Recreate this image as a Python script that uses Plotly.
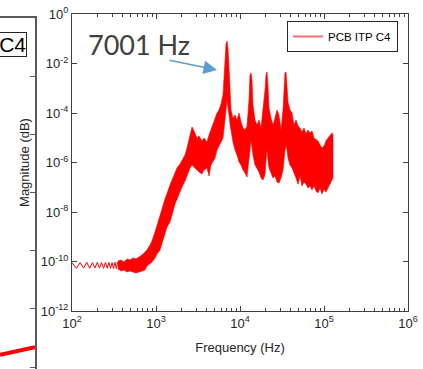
import plotly.graph_objects as go

# ---------------- data ----------------
# low-frequency ripple of the PCB ITP C4 spectrum (Hz, magnitude)
ripple_freq = [100, 112.5, 125, 137.5, 150, 162.5, 175, 187.5, 200, 212.5, 225, 237.5,
               250, 262.5, 275, 287.5, 300, 312.5, 325, 337.5, 350, 362.5, 375, 387.5, 400]
ripple_mag = [9.1e-11, 5.3e-11, 9.0e-11, 5.4e-11, 9.2e-11, 5.3e-11, 9.0e-11, 5.5e-11,
              9.1e-11, 5.4e-11, 9.0e-11, 5.3e-11, 9.1e-11, 5.4e-11, 9.2e-11, 5.3e-11,
              9.0e-11, 5.2e-11, 9.3e-11, 5.1e-11, 9.6e-11, 5.0e-11, 1.0e-10, 4.8e-11, 1.0e-10]

# dense noisy part of the spectrum: frequency, upper and lower envelope
band_freq = [353, 383, 416, 452, 490, 532, 578, 628, 681, 740, 781, 848, 896, 973, 1028,
             1116, 1179, 1280, 1352, 1468, 1551, 1684, 1778, 1931, 2039, 2214, 2339, 2540,
             2683, 2835, 3078, 3251, 3529, 3728, 4047, 4276, 4517, 4771, 5040, 5324, 5623,
             5940, 6275, 6449, 6629, 6813, 7001, 7197, 7396, 7603, 7814, 8254, 8722, 9211,
             9730, 10280, 10860, 11470, 12120, 12800, 13150, 13520, 13900, 14280, 15090,
             15940, 16840, 17780, 18780, 19850, 20400, 20960, 21540, 22140, 23390, 24710,
             26100, 27570, 29130, 30770, 32510, 33410, 34340, 35290, 36270, 37280, 39380,
             41600, 43950, 46420, 49040, 51810, 54720, 57810, 61070, 64490, 68130, 71970,
             76030, 80320, 84830, 89620, 94670, 100000, 105600, 111600, 117900, 124500, 128000]
band_upper = [1.05e-10, 1.15e-10, 9.5e-11, 1.26e-10, 1.15e-10, 1.38e-10, 1.26e-10, 1.52e-10,
              1.83e-10, 2.42e-10, 2.92e-10, 4.6e-10, 6.7e-10, 1.56e-9, 2.72e-9, 7.6e-9,
              1.32e-8, 3.35e-8, 5.9e-8, 1.23e-7, 1.96e-7, 4.13e-7, 6.0e-7, 8.7e-7, 1.26e-6,
              2.01e-6, 3.85e-6, 1.29e-5, 2.72e-5, 1.87e-5, 9.8e-6, 1.18e-5, 7.4e-6, 9.8e-6,
              6.7e-6, 1.29e-5, 2.06e-5, 3.59e-5, 6.3e-5, 1.0e-4, 1.32e-4, 2.31e-4, 5.3e-4,
              2.16e-3, 1.15e-2, 6.14e-2, 8.1e-2, 4.23e-2, 7.22e-3, 8.5e-4, 1.32e-4, 6.3e-5,
              8.3e-5, 5.2e-5, 1.0e-4, 4.33e-5, 2.48e-5, 2.06e-5, 2.98e-5, 3.35e-4, 3.43e-3,
              4.13e-3, 2.16e-3, 2.1e-4, 5.2e-5, 3.28e-5, 5.2e-5, 2.48e-5, 1.32e-4, 8.5e-4,
              3.43e-3, 4.54e-3, 1.35e-3, 1.59e-4, 6.3e-5, 3.28e-5, 6.3e-5, 1.32e-4, 8.3e-5,
              2.06e-5, 1.32e-4, 1.35e-3, 4.13e-3, 4.54e-3, 1.02e-3, 2.78e-4, 1.32e-4, 1.0e-4,
              3.28e-5, 5.2e-5, 2.98e-5, 2.48e-5, 1.71e-5, 2.48e-5, 1.42e-5, 2.06e-5, 1.56e-5,
              1.87e-5, 9.8e-6, 8.1e-6, 7.4e-6, 5.1e-6, 3.85e-6, 4.6e-6, 7.4e-6, 9.8e-6,
              1.18e-5, 1.56e-5, 1.29e-5]
band_lower = [5.0e-11, 4.13e-11, 4.54e-11, 3.77e-11, 4.13e-11, 3.77e-11, 3.43e-11, 3.77e-11,
              4.13e-11, 4.54e-11, 6.6e-11, 7.9e-11, 9.5e-11, 1.38e-10, 2.01e-10, 2.92e-10,
              5.1e-10, 1.42e-9, 2.48e-9, 3.94e-9, 7.6e-9, 2.1e-8, 3.68e-8, 6.4e-8, 1.02e-7,
              1.79e-7, 2.85e-7, 6.0e-7, 7.9e-7, 6.6e-7, 5.0e-7, 4.13e-7, 3.43e-7, 5.0e-7,
              6.0e-7, 2.85e-7, 7.9e-7, 1.05e-6, 1.52e-6, 3.2e-6, 4.6e-6, 6.7e-6, 9.8e-6,
              2.06e-5, 6.3e-5, 1.32e-4, 3.35e-4, 2.31e-4, 8.3e-5, 3.59e-5, 1.71e-5, 6.7e-6,
              3.2e-6, 2.01e-6, 1.05e-6, 7.9e-7, 5.0e-7, 3.77e-7, 2.6e-7, 1.26e-6, 3.2e-6,
              8.1e-6, 5.1e-6, 2.01e-6, 7.9e-7, 6.0e-7, 4.13e-7, 2.37e-7, 1.96e-7, 3.13e-7,
              1.26e-6, 3.2e-6, 1.26e-6, 6.0e-7, 4.13e-7, 2.37e-7, 2.85e-7, 1.63e-7, 1.49e-7,
              2.37e-7, 5.0e-7, 1.26e-6, 3.2e-6, 5.1e-6, 3.2e-6, 1.52e-6, 7.9e-7, 6.0e-7,
              4.13e-7, 2.37e-7, 1.35e-7, 2.85e-7, 1.12e-7, 1.63e-7, 1.35e-7, 9.3e-8, 1.12e-7,
              7.7e-8, 1.12e-7, 7.1e-8, 5.9e-8, 9.3e-8, 5.3e-8, 8.5e-8, 6.4e-8, 9.3e-8,
              1.35e-7, 1.96e-7, 2.37e-7]

peak_label = "7001 Hz"
series_name = "PCB ITP C4"

x_tick_vals = [1e2, 1e3, 1e4, 1e5, 1e6]
x_tick_text = ["10<sup>2</sup>", "10<sup>3</sup>", "10<sup>4</sup>", "10<sup>5</sup>", "10<sup>6</sup>"]
y_tick_vals = [1e-12, 1e-10, 1e-8, 1e-6, 1e-4, 1e-2, 1]
y_tick_text = ["10<sup>-12</sup>", "10<sup>-10</sup>", "10<sup>-8</sup>", "10<sup>-6</sup>",
               "10<sup>-4</sup>", "10<sup>-2</sup>", "10<sup>0</sup>"]

# neighbouring panel (only its right edge is visible)
left_x = [0.0, 1.0]
left_y = [0.21, 0.34]

# ---------------- figure ----------------
W, H = 423, 369
ML, MR, MT, MB = 0, 15, 14, 0
PW, PH = W - ML - MR, H - MT - MB

AX = "#404040"
RED = "#ff0000"
FONT = "Liberation Sans, Arial, sans-serif"

fig = go.Figure()

band_x = band_freq + band_freq[::-1]
band_y = band_upper + band_lower[::-1]
fig.add_trace(go.Scatter(x=band_x, y=band_y, mode="lines", fill="toself",
                         fillcolor=RED, line=dict(color=RED, width=0.6),
                         showlegend=False, hoverinfo="skip", xaxis="x", yaxis="y"))
fig.add_trace(go.Scatter(x=ripple_freq, y=ripple_mag, mode="lines", name=series_name,
                         showlegend=False,
                         line=dict(color=RED, width=1), xaxis="x", yaxis="y"))
# legend entry for the series
fig.add_trace(go.Scatter(x=[None], y=[None], mode="lines", name=series_name,
                         line=dict(color="rgb(255,110,110)", width=2), showlegend=True,
                         xaxis="x", yaxis="y"))
fig.add_trace(go.Scatter(x=left_x, y=left_y, mode="lines", showlegend=False,
                         line=dict(color=RED, width=4), xaxis="x2", yaxis="y2"))

minor_x = [k * 10 ** d for d in range(2, 6) for k in range(2, 10)]

fig.update_layout(
    width=W, height=H, autosize=False,
    margin=dict(l=ML, r=MR, t=MT, b=MB, pad=0),
    paper_bgcolor="white", plot_bgcolor="rgba(0,0,0,0)",
    font=dict(family=FONT, size=13, color="#262626"),
    xaxis=dict(type="log", range=[2, 6], domain=[72 / PW, 1], anchor="y",
               showline=True, linecolor=AX, linewidth=1, mirror="allticks",
               ticks="inside", ticklen=5, tickcolor=AX, tickwidth=1,
               tickvals=x_tick_vals, ticktext=x_tick_text,
               tickfont=dict(size=13, color="#262626"),
               minor=dict(ticks="inside", ticklen=3, tickcolor=AX, tickvals=minor_x, showgrid=False),
               showgrid=False, zeroline=False, automargin=False,
               title=dict(text="Frequency (Hz)", font=dict(size=13, color="#262626"), standoff=13)),
    yaxis=dict(type="log", range=[-12, 0], domain=[58 / PH, 1], anchor="x",
               showline=True, linecolor=AX, linewidth=1, mirror="allticks",
               ticks="inside", ticklen=5, tickcolor=AX, tickwidth=1,
               tickvals=y_tick_vals, ticktext=y_tick_text,
               tickfont=dict(size=13, color="#262626"),
               showgrid=False, zeroline=False, automargin=False,
               title=dict(text="Magnitude (dB)", font=dict(size=13, color="#262626"), standoff=8)),
    xaxis2=dict(range=[0, 1], domain=[0, 35 / PW], anchor="y2", side="top",
                showline=True, linecolor="#5a5a5a", linewidth=1.5, ticks="",
                showticklabels=False, showgrid=False, zeroline=False, automargin=False),
    yaxis2=dict(range=[-0.034, 6.0], domain=[0, 351 / PH], anchor="x2", side="right",
                showline=True, linecolor="#5a5a5a", linewidth=1.5,
                ticks="inside", ticklen=5, tickcolor="#5a5a5a", tick0=0, dtick=1,
                showticklabels=False, showgrid=False, zeroline=False, automargin=False),
    legend=dict(x=398 / PW, y=(H - 21) / PH, xanchor="right", yanchor="top",
                bgcolor="white", bordercolor="#262626", borderwidth=1,
                font=dict(size=11.5, color="#000000"), itemwidth=30,
                tracegroupgap=0),
    annotations=[
        dict(text=peak_label, xref="paper", yref="paper", x=138.5 / PW, y=(H - 44) / PH,
             xanchor="center", yanchor="middle", showarrow=False,
             font=dict(family="Lato, Open Sans, sans-serif", size=27, color="#404040")),
        dict(text="", xref="x", yref="y", x=3.726, y=-2.263, ax=-49, ay=-10,
             showarrow=True, arrowhead=2, arrowsize=1.8, arrowwidth=1.5,
             arrowcolor="#5B9BD5"),
        dict(text="PCB ITP C4", xref="paper", yref="paper", x=27 / PW, y=(H - 32) / PH,
             xanchor="right", yanchor="top", showarrow=False, bgcolor="white",
             bordercolor="#262626", borderwidth=1, borderpad=0,
             font=dict(family=FONT, size=21, color="#000000")),
    ],
)

fig.write_html("out.html")
